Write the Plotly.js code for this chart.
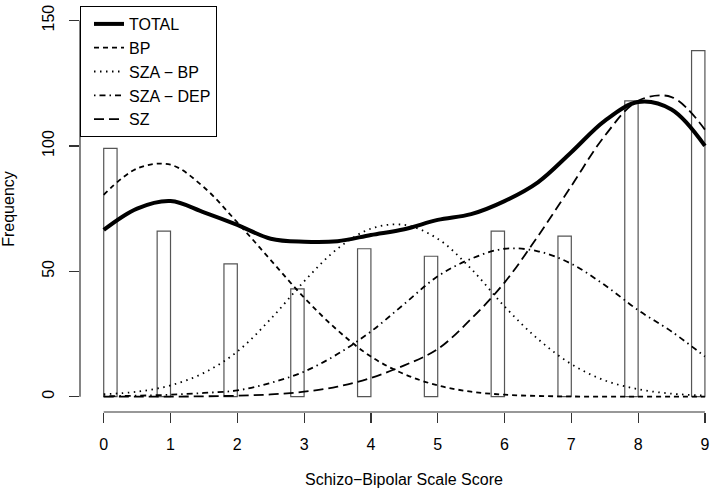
<!DOCTYPE html>
<html>
<head>
<meta charset="utf-8">
<script src="https://cdn.plot.ly/plotly-3.0.1.min.js"></script>
<style>
  body { margin: 0; background: #fff; overflow: hidden; }
  #chart { width: 714px; height: 495px; }
</style>
</head>
<body>
<div id="chart"></div>
<script>
// Histogram counts per score
const scores = [0, 1, 2, 3, 4, 5, 6, 7, 8, 9];
const counts = [99, 66, 53, 43, 59, 56, 66, 64, 118, 138];

// Fitted curves, every half point
const xs = [0, 0.5, 1, 1.5, 2, 2.5, 3, 3.5, 4, 4.5, 5, 5.5, 6, 6.5, 7, 7.5, 8, 8.5, 9];
const total  = [66.5, 75, 78, 73.5, 68.5, 63, 61.8, 62, 64.5, 66.8, 70.5, 72.8, 78, 85.5, 97.5, 110, 117.5, 114.5, 100];
const bp     = [80.5, 91, 92.5, 83.5, 69.5, 54.5, 39.5, 26.5, 16, 9, 4.5, 2, 0.8, 0.3, 0.1, 0, 0, 0, 0];
const szaBp  = [1, 2, 4.5, 9.5, 18, 31, 46, 59, 67, 68.5, 63, 51, 36, 23, 13, 6.5, 3, 1.2, 0.5];
const szaDep = [0.2, 0.4, 0.8, 1.5, 2.5, 5.5, 10, 17, 26, 37, 48, 55, 59, 58, 53, 44.5, 34.5, 26, 16];
const sz     = [0, 0, 0.05, 0.15, 0.4, 0.9, 2, 4, 7.5, 12.5, 19, 31, 45.5, 64, 84, 104, 118, 119.5, 106.5];

const names = ['TOTAL', 'BP', 'SZA \u2212 BP', 'SZA \u2212 DEP', 'SZ'];

const bars = {
    x: scores,
    y: counts,
    type: 'bar',
    width: 0.2,
    offset: scores.map(s => s === 0 ? 0 : -0.2),
    marker: { color: '#ffffff', line: { color: '#555555', width: 1.2 } },
    showlegend: false,
    hoverinfo: 'skip'
};

function curve(y, name, width, dash) {
    return {
        x: xs, y: y, name: name,
        type: 'scatter', mode: 'lines',
        line: { color: '#000000', width: width, dash: dash, shape: 'spline', smoothing: 1 }
    };
}

const traces = [
    bars,
    curve(total, names[0], 4, 'solid'),
    curve(bp, names[1], 1.8, '5px,4px'),
    curve(szaBp, names[2], 1.8, '1.5px,4.5px'),
    curve(szaDep, names[3], 1.8, '1.5px,4px,6px,4px'),
    curve(sz, names[4], 1.8, '10px,5px')
];

const font = { family: 'Liberation Sans, Arial, sans-serif', size: 16, color: '#000' };

const layout = {
    width: 714, height: 495,
    margin: { l: 80, r: 0, t: 6, b: 83 },
    paper_bgcolor: '#fff', plot_bgcolor: '#fff',
    font: font,
    bargap: 0,
    xaxis: {
        range: [-0.355, 9.136],
        tickvals: scores,
        ticks: 'outside', ticklen: 10, tickcolor: '#333', tickwidth: 1.2,
        showline: false, zeroline: false, showgrid: false,
        ticklabelstandoff: 8
    },
    yaxis: {
        range: [-6.1, 155.8],
        tickvals: [0, 50, 100, 150],
        tickangle: -90,
        ticks: 'outside', ticklen: 10, tickcolor: '#333', tickwidth: 1.2,
        showline: false, zeroline: false, showgrid: false,
        ticklabelstandoff: 9,
        title: { text: 'Frequency', font: font, standoff: 20 }
    },
    shapes: [
        { type: 'line', xref: 'paper', yref: 'y', x0: 0, x1: 0, y0: 0, y1: 150, line: { color: '#333', width: 1.2 } },
        { type: 'line', xref: 'x', yref: 'paper', x0: 0, x1: 9, y0: 0, y1: 0, line: { color: '#333', width: 1.2 } }
    ],
    annotations: [
        { text: 'Schizo\u2212Bipolar Scale Score', xref: 'paper', yref: 'paper', x: 0.511, y: 0,
          yshift: -78, showarrow: false, font: font }
    ],
    legend: {
        x: 0, y: 1, xanchor: 'left', yanchor: 'top',
        bordercolor: '#000', borderwidth: 1, bgcolor: '#fff',
        font: font, traceorder: 'normal', indentation: 8
    }
};

Plotly.newPlot('chart', traces, layout, { displayModeBar: false, staticPlot: true });
</script>
</body>
</html>
